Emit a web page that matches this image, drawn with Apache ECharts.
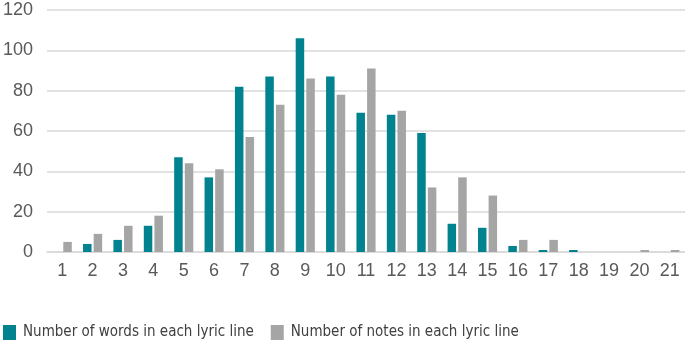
<!DOCTYPE html>
<html><head><meta charset="utf-8">
<script src="https://cdn.jsdelivr.net/npm/echarts@6/dist/echarts.min.js"></script>
<style>html,body{margin:0;padding:0;background:#fff}#c{width:685px;height:346px}</style>
</head><body><div id="c"></div>
<script>
var categories = ['1','2','3','4','5','6','7','8','9','10','11','12','13','14','15','16','17','18','19','20','21'];
var wordsName = 'Number of words in each lyric line';
var notesName = 'Number of notes in each lyric line';
var words = [0,4,6,13,47,37,82,87,106,87,69,68,59,14,12,3,1,1,0,0,0];
var notes = [5,9,13,18,44,41,57,73,86,78,91,70,32,37,28,6,6,0,0,1,1];
var yTicks = {min:0, max:120, interval:20};

var chart = echarts.init(document.getElementById('c'), null, {renderer:'canvas'});
var font = 'Liberation Sans';
chart.setOption({
  animation:false,
  grid:{left:47, right:0, top:10, bottom:94},
  legend:{
    top:320, left:-2, padding:5, itemWidth:13, itemHeight:15, itemGap:17, icon:'rect',
    textStyle:{fontFamily:'DejaVu Sans Condensed, Liberation Sans, sans-serif', fontSize:15, color:'#404040', padding:[0,0,0,2]},
    data:[wordsName, notesName]
  },
  xAxis:{
    type:'category', data:categories,
    axisLine:{lineStyle:{color:'#D9D9D9', width:1.5}},
    axisTick:{show:false},
    axisLabel:{fontFamily:font, fontSize:18, color:'#595959', margin:10}
  },
  yAxis:{
    type:'value', min:yTicks.min, max:yTicks.max, interval:yTicks.interval,
    axisLine:{show:false}, axisTick:{show:false},
    splitLine:{lineStyle:{color:'#D9D9D9', width:1.5}},
    axisLabel:{fontFamily:font, fontSize:18, color:'#595959', margin:14}
  },
  series:[
    {name:wordsName, type:'bar', data:words, barWidth:8.5, barGap:'25%',
     itemStyle:{color:'#00838F'}},
    {name:notesName, type:'bar', data:notes, barWidth:8.5,
     itemStyle:{color:'#A5A5A5'}}
  ]
});
</script></body></html>
